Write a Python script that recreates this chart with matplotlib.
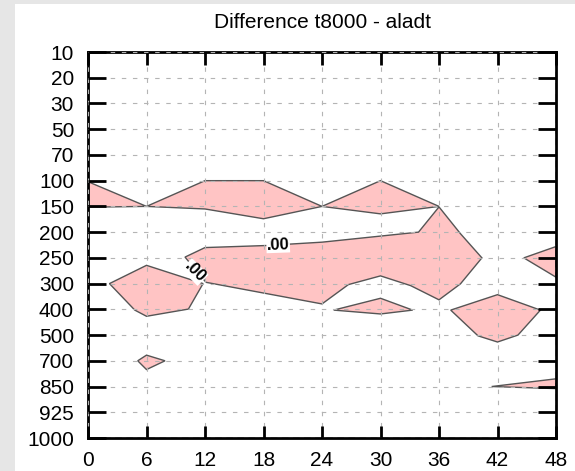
import matplotlib
matplotlib.use("Agg")
import matplotlib.pyplot as plt
from matplotlib.patches import Rectangle

plt.rcParams['font.family'] = ['Liberation Sans', 'DejaVu Sans']

# Pressure levels (hPa), shown top to bottom as evenly spaced categories
LEVELS = [10, 20, 30, 50, 70, 100, 150, 200, 250, 300, 400, 500, 700, 850, 925, 1000]
HOURS = [0, 6, 12, 18, 24, 30, 36, 42, 48]
TITLE = "Difference t8000 - aladt"

# Positive-difference regions: x = forecast hour, y = fractional level index
wedge_left_x = [0, 6, 0]
wedge_left_y = [5.04, 6.0, 6.03]

upper_mid_x = [6, 12, 18, 24, 18, 12]
upper_mid_y = [6.0, 5.0, 5.0, 6.0, 6.48, 6.1]

upper_right_x = [24, 30, 36, 30]
upper_right_y = [6.0, 5.0, 6.0, 6.29]

main_x = [9.95, 12.0, 18.3, 24.0, 33.9, 36.0, 38.2, 40.4, 38.2, 36.0, 33.1, 30.0, 26.7, 24.0, 12.1]
main_y = [7.97, 7.6, 7.52, 7.39, 7.0, 6.02, 7.06, 8.0, 9.01, 9.63, 9.08, 8.7, 9.04, 9.79, 8.95]

low_left_x = [2.2, 6.0, 11.8, 10.3, 6.0, 4.8]
low_left_y = [9.0, 8.29, 9.0, 9.99, 10.27, 10.03]

low_mid_x = [25.2, 30.0, 33.3, 30.0]
low_mid_y = [10.03, 9.57, 10.03, 10.18]

low_right_x = [37.2, 42.0, 46.4, 44.1, 42.0, 40.0]
low_right_y = [10.03, 9.43, 10.03, 11.0, 11.27, 11.03]

edge_250_x = [44.7, 48, 48]
edge_250_y = [8.0, 7.56, 8.75]

spot_700_x = [5.1, 6.0, 7.9, 6.0]
spot_700_y = [12.0, 11.78, 12.0, 12.34]

sliver_850_x = [41.4, 48, 48]
sliver_850_y = [13.0, 12.7, 13.08]

POLYGONS = [
    (wedge_left_x, wedge_left_y),
    (upper_mid_x, upper_mid_y),
    (upper_right_x, upper_right_y),
    (main_x, main_y),
    (low_left_x, low_left_y),
    (low_mid_x, low_mid_y),
    (low_right_x, low_right_y),
    (edge_250_x, edge_250_y),
    (spot_700_x, spot_700_y),
    (sliver_850_x, sliver_850_y),
]

# contour labels
label_x = [19.5, 10.95]
label_y = [7.5, 8.55]
label_txt = [".00", ".00"]
label_rot = [2, -45]

W, H = 575, 471
fig = plt.figure(figsize=(W / 100, H / 100), dpi=100, facecolor="#e6e6e6")
bg = Rectangle((15 / W, 0), 1 - 15 / W, 1 - 4 / H, transform=fig.transFigure,
               facecolor="white", edgecolor="none", zorder=-10)
fig.add_artist(bg)

L, R, T, B = 88, 556, 52, 438
ax = fig.add_axes([L / W, 1 - B / H, (R - L) / W, (B - T) / H])
ax.set_zorder(1)
ax.set_facecolor("white")

for xs, ys in POLYGONS:
    ax.fill(xs, ys, facecolor="#ffc4c4", edgecolor="#555555", linewidth=1.0, zorder=1)

for x, y, t, r in zip(label_x, label_y, label_txt, label_rot):
    ax.text(x, y, t, ha="center", va="center", rotation=r, fontsize=12, fontweight="bold",
            color="black", zorder=4,
            bbox=dict(facecolor="white", edgecolor="none", pad=0.3))

ax.set_xlim(0, 48)
ax.set_ylim(len(LEVELS) - 1, 0)
ax.set_xticks(HOURS)
ax.set_xticklabels([str(h) for h in HOURS])
ax.set_yticks(range(len(LEVELS)))
ax.set_yticklabels([str(l) for l in LEVELS])

ax.set_axisbelow(False)
ax.grid(True, linestyle=(0, (4, 6)), color="#b4b4b4", linewidth=0.8)

ax.tick_params(axis="y", direction="in", length=13, width=2, left=True, right=True,
               labelsize=15, pad=10)
ax.tick_params(axis="x", direction="in", length=9, width=2, top=True, bottom=True,
               labelsize=15, pad=9)
for s in ax.spines.values():
    s.set_linewidth(2)

fig.text((L + R) / 2 / W, 1 - 22 / H, TITLE, ha="center", va="center", fontsize=15)

fig.savefig("out.png", dpi=100, facecolor=fig.get_facecolor())
